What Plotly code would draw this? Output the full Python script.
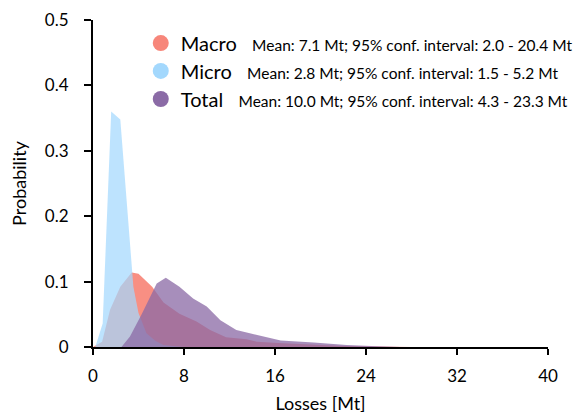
import plotly.graph_objects as go

# Data
macro_x = [0.0, 0.3, 0.8, 1.5, 2.4, 3.4, 4.0, 5.2, 6.2, 7.6, 8.5, 9.1, 10.3, 11.7, 13.5, 14.4, 16.3, 19.4, 22.0, 25.0, 28.0, 40.0]
macro_y = [0.0, 0.003, 0.008, 0.057, 0.092, 0.114, 0.112, 0.092, 0.068, 0.051, 0.044, 0.039, 0.026, 0.015, 0.012, 0.008, 0.006, 0.003, 0.0015, 0.0007, 0.0, 0.0]

micro_x = [0.0, 0.2, 0.85, 1.6, 2.4, 3.25, 3.55, 4.0, 4.7, 5.5, 6.2, 7.2, 8.0, 40.0]
micro_y = [0.0, 0.0, 0.036, 0.36, 0.348, 0.148, 0.092, 0.052, 0.021, 0.009, 0.003, 0.001, 0.0, 0.0]

total_x = [0.0, 2.5, 3.25, 4.3, 5.6, 6.4, 7.6, 8.8, 10.0, 11.2, 12.6, 14.7, 16.5, 19.4, 22.3, 25.0, 27.0, 40.0]
total_y = [0.0, 0.0, 0.016, 0.051, 0.097, 0.106, 0.092, 0.074, 0.062, 0.041, 0.026, 0.017, 0.010, 0.0067, 0.003, 0.001, 0.0, 0.0]

names = ["Macro", "Micro", "Total"]
stats = [
    "Mean: 7.1 Mt; 95% conf. interval: 2.0 - 20.4 Mt",
    "Mean: 2.8 Mt; 95% conf. interval: 1.5 - 5.2 Mt",
    "Mean: 10.0 Mt; 95% conf. interval: 4.3 - 23.3 Mt",
]
fill_colors = ["rgba(247,134,122,0.93)", "rgba(163,216,253,0.72)", "rgba(139,107,166,0.76)"]
legend_colors = ["#F7867A", "#A3D8FD", "#8B6BA6"]

x_ticks = [0, 8, 16, 24, 32, 40]
y_ticks = [0, 0.1, 0.2, 0.3, 0.4, 0.5]
y_ticktext = ["0", "0.1", "0.2", "0.3", "0.4", "0.5"]

FONT = "Lato, 'Open Sans', sans-serif"

fig = go.Figure()
for xs, ys, fc in zip([macro_x, micro_x, total_x], [macro_y, micro_y, total_y], fill_colors):
    fig.add_trace(go.Scatter(x=xs, y=ys, mode="lines", fill="tozeroy",
                             fillcolor=fc, line=dict(width=0, color=fc),
                             showlegend=False, hoverinfo="skip"))

legend_ids = ["legend", "legend2", "legend3"]
legend_ys = [0.989, 0.904, 0.818]
for n, s, c, lid in zip(names, stats, legend_colors, legend_ids):
    fig.add_trace(go.Scatter(
        x=[None], y=[None], mode="markers",
        marker=dict(symbol="circle", size=17, color=c),
        name=f"{n}   <span style='font-size:15.5px'>{s}</span>",
        legend=lid,
    ))

legend_common = dict(x=0.105, xanchor="left", yanchor="top",
                     bgcolor="rgba(0,0,0,0)", font=dict(size=20),
                     itemsizing="trace")

fig.update_layout(
    width=579, height=410,
    margin=dict(l=85, r=39, t=12, b=71, autoexpand=False),
    paper_bgcolor="white", plot_bgcolor="white",
    font=dict(family=FONT, size=17, color="black"),
    legend=dict(y=legend_ys[0], **legend_common),
    legend2=dict(y=legend_ys[1], **legend_common),
    legend3=dict(y=legend_ys[2], **legend_common),
    xaxis=dict(range=[0, 40], tickvals=x_ticks, automargin=False,
               showgrid=False, zeroline=False, showline=True,
               linecolor="black", linewidth=2, ticks="outside",
               ticklen=6, tickwidth=2, tickcolor="black",
               ticklabelstandoff=7,
               title=dict(text="Losses [Mt]", font=dict(size=18), standoff=12)),
    yaxis=dict(range=[0, 0.5], tickvals=y_ticks, ticktext=y_ticktext, automargin=False,
               showgrid=False, zeroline=False, showline=True,
               linecolor="black", linewidth=2, ticks="outside",
               ticklen=7, tickwidth=2, tickcolor="black",
               ticklabelstandoff=12,
               title=dict(text="Probability", font=dict(size=18), standoff=16)),
)

fig.write_html("out.html")
